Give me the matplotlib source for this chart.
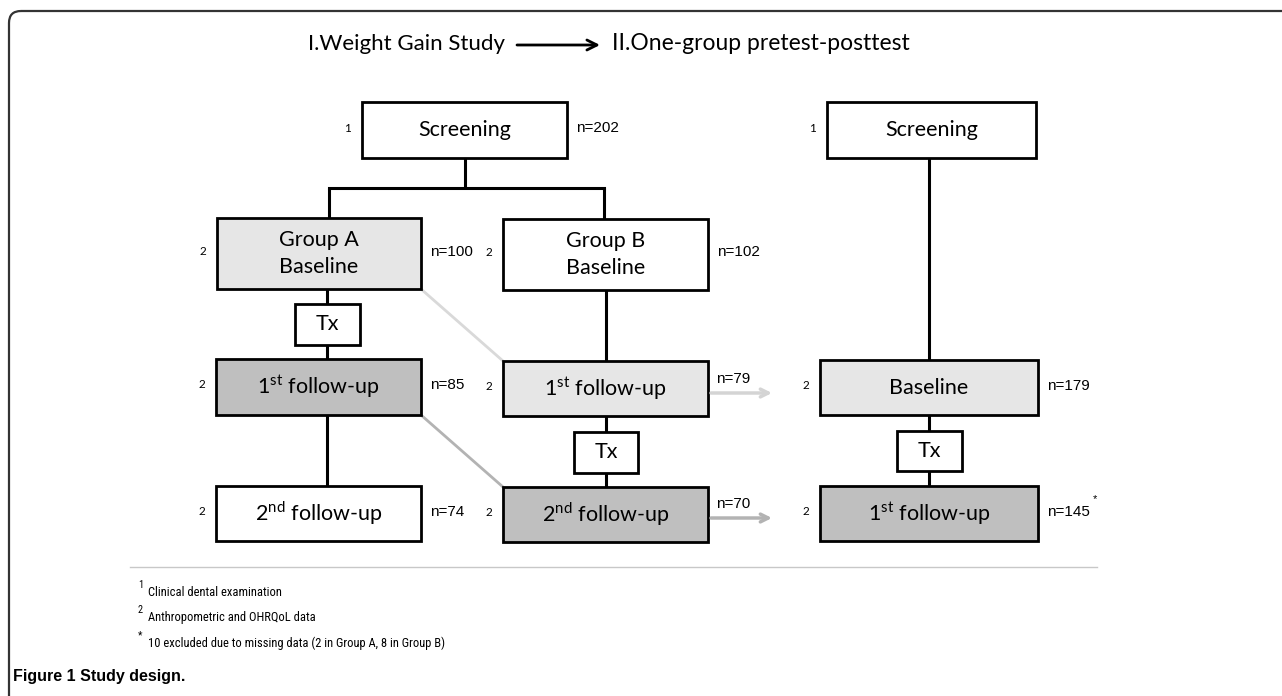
import matplotlib
matplotlib.use("Agg")
import matplotlib.pyplot as plt
from matplotlib.patches import Rectangle, FancyBboxPatch
from matplotlib.font_manager import findfont, FontProperties

plt.rcParams['mathtext.fontset'] = 'custom'
plt.rcParams['mathtext.rm'] = 'Lato'

# --- content ---
title_left = "I.Weight Gain Study"
title_right = "II.One-group pretest-posttest"

# box labels, counts and footnote marks
box_names = ["screenA", "groupA", "groupB", "txA", "fu1A", "fu2A",
             "fu1B", "txB", "fu2B", "screenR", "baseR", "txR", "fu1R"]
box_text = ["Screening", "Group A\nBaseline", "Group B\nBaseline", "Tx",
            "1$^{\\mathrm{st}}$ follow-up", "2$^{\\mathrm{nd}}$ follow-up",
            "1$^{\\mathrm{st}}$ follow-up", "Tx", "2$^{\\mathrm{nd}}$ follow-up",
            "Screening", "Baseline", "Tx", "1$^{\\mathrm{st}}$ follow-up"]
box_mark = ["1", "2", "2", "", "2", "2", "2", "", "2", "1", "2", "", "2"]
box_n = [202, 100, 102, None, 85, 74, None, None, None, None, 179, None, 145]
box_shade = ["w", "l", "w", "w", "d", "w", "l", "w", "d", "w", "l", "w", "d"]

exit_n = [79, 70]   # arrows leaving group B

footnotes = ["Clinical dental examination",
             "Anthropometric and OHRQoL data",
             "10 excluded due to missing data (2 in Group A, 8 in Group B)"]
footnote_marks = ["1", "2", "*"]
caption = "Figure 1 Study design."

# --- layout (pixels, y down) ---
geom = {
    "screenA": (362, 567, 102, 158),
    "groupA": (217, 421, 218, 289),
    "groupB": (503, 708, 219, 290),
    "txA": (295, 360, 304, 345),
    "fu1A": (216, 421, 359, 415),
    "fu2A": (216, 421, 486, 541),
    "fu1B": (503, 708, 361, 416),
    "txB": (574, 638, 432, 473),
    "fu2B": (503, 708, 487, 542),
    "screenR": (827, 1036, 102, 158),
    "baseR": (820, 1038, 360, 415),
    "txR": (897, 962, 431, 471),
    "fu1R": (820, 1038, 486, 541),
}
fills = {"w": "white", "l": "#e6e6e6", "d": "#bfbfbf"}

W, H = 1282, 696
fig = plt.figure(figsize=(W / 100, H / 100), dpi=100)
ax = fig.add_axes([0, 0, 1, 1])
ax.set_xlim(0, W)
ax.set_ylim(H, 0)
ax.axis("off")

BOXFONT = "Lato"
NFONT = "Liberation Sans"

# narrow face for the footnotes if one is installed
NARROW, FN_SIZE = "Liberation Sans", 8.0
for fam in ["Liberation Sans Narrow", "Roboto Condensed", "Arial Narrow"]:
    try:
        findfont(FontProperties(family=fam), fallback_to_default=False)
        NARROW, FN_SIZE = fam, 9.0
        break
    except ValueError:
        pass

# outer frame with one rounded corner
ax.add_patch(FancyBboxPatch((9, 11), 1500, 900,
                            boxstyle="round,pad=0,rounding_size=12",
                            fc="none", ec="#333333", lw=1.6, zorder=1))

# titles
ax.text(505, 44, title_left, fontsize=16, family=BOXFONT, va="center", ha="right")
ax.annotate("", xy=(600, 45), xytext=(517, 45),
            arrowprops=dict(arrowstyle="->", lw=2, color="black",
                            mutation_scale=18, shrinkA=0, shrinkB=0))
ax.text(612, 44, title_right, fontsize=16.5, family=BOXFONT, va="center", ha="left")

# connector lines
LW = 2.2
def vline(x, y0, y1, color="black", lw=LW):
    ax.plot([x, x], [y0, y1], color=color, lw=lw, solid_capstyle="butt", zorder=2)

vline(465, 158, 188)
ax.plot([329, 604], [188, 188], color="black", lw=LW, zorder=2, solid_capstyle="projecting")
vline(329, 188, 218)
vline(604, 188, 219)

vline(327, 289, 304)
vline(327, 345, 359)
vline(327, 415, 486)

vline(606, 290, 361)
vline(606, 416, 432)
vline(606, 473, 487)

vline(929, 158, 360)
vline(929, 415, 431)
vline(929, 471, 486)

# cross-over diagonals
ax.plot([421, 503], [289, 361], color="#d9d9d9", lw=2, zorder=2)
ax.plot([421, 503], [415, 487], color="#b3b3b3", lw=2, zorder=2)

# boxes
for name, txt, mark, n, shade in zip(box_names, box_text, box_mark, box_n, box_shade):
    x0, x1, y0, y1 = geom[name]
    ax.add_patch(Rectangle((x0, y0), x1 - x0, y1 - y0, fc=fills[shade],
                           ec="black", lw=2.0, zorder=3))
    cx = (x0 + x1) / 2
    cy = (y0 + y1) / 2
    ax.text(cx, cy, txt, fontsize=15.5, family=BOXFONT, ha="center", va="center",
            linespacing=1.45, zorder=4)
    if mark:
        ax.text(x0 - 11, cy - 2, mark, fontsize=8.5, family=BOXFONT,
                ha="right", va="center", zorder=4)
    if n is not None:
        ax.text(x1 + 9, cy - 2, "n=%d" % n, fontsize=11, family=NFONT,
                ha="left", va="center", zorder=4)

ax.text(1095, 499, "*", fontsize=8, family=NFONT, ha="center", va="center")

# exits from group B to the second study
for n, (y, col) in zip(exit_n, [(393, "#d4d4d4"), (518, "#b3b3b3")]):
    ax.annotate("", xy=(772, y), xytext=(711, y),
                arrowprops=dict(arrowstyle="->", lw=2.5, color=col,
                                mutation_scale=14, shrinkA=0, shrinkB=0))
    ax.text(716, y - 14, "n=%d" % n, fontsize=11, family=NFONT,
            ha="left", va="center")

# footnotes
ax.plot([130, 1097], [567, 567], color="#c8c8c8", lw=1.0)
for i, (mark, txt) in enumerate(zip(footnote_marks, footnotes)):
    y = 593 + i * 25
    ax.text(138, y - 8, mark, fontsize=FN_SIZE - 1.5, family=NARROW,
            ha="left", va="center")
    ax.text(148, y, txt, fontsize=FN_SIZE, family=NARROW, ha="left", va="center")

ax.text(13, 676, caption, fontsize=11.5, family="Liberation Sans", weight="bold",
        ha="left", va="center")

fig.savefig("out.png", dpi=100)
